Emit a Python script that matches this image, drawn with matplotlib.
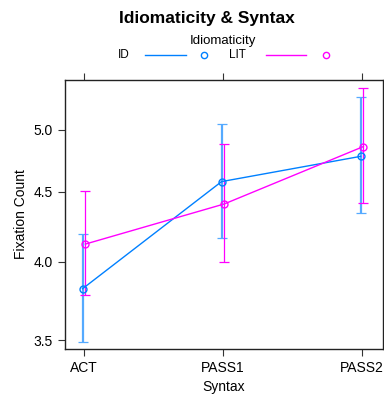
import numpy as np
import matplotlib.pyplot as plt
from matplotlib.lines import Line2D

plt.rcParams['font.family'] = ['Liberation Sans', 'DejaVu Sans']

syntax = ['ACT', 'PASS1', 'PASS2']
groups = ['ID', 'LIT']
fit = {'ID': [3.82, 4.58, 4.78], 'LIT': [4.12, 4.41, 4.86]}
lower = {'ID': [3.49, 4.16, 4.34], 'LIT': [3.78, 4.00, 4.42]}
upper = {'ID': [4.19, 5.05, 5.29], 'LIT': [4.51, 4.88, 5.37]}
yticks = [3.5, 4.0, 4.5, 5.0]

colors = {'ID': '#0080ff', 'LIT': '#ff00ff'}
bar_colors = {'ID': '#55aaff', 'LIT': '#ff00ff'}
bar_widths = {'ID': 1.6, 'LIT': 0.9}
offsets = {'ID': -0.01, 'LIT': 0.01}

W, H = 384, 396
fig = plt.figure(figsize=(W / 100, H / 100), dpi=100)
ax = fig.add_axes([0.169, 0.119, 0.828, 0.679])

x = np.arange(len(syntax))
for g in groups:
    xs = x + offsets[g]
    f = np.array(fit[g])
    lo = np.array(lower[g])
    hi = np.array(upper[g])
    ax.errorbar(xs, f, yerr=[f - lo, hi - f], fmt='none', ecolor=bar_colors[g],
                elinewidth=bar_widths[g], capsize=3.3, capthick=0.9, zorder=2)
    ax.plot(xs, f, color=colors[g], lw=1.0, marker='o', ms=5, mfc='none',
            mec=colors[g], mew=1.0, zorder=3)

ax.set_yscale('log')
ax.set_ylim(3.45, 5.44)
ax.set_xlim(-0.137, 2.15)
ax.set_yticks(yticks)
ax.set_yticklabels([f'{v:.1f}' for v in yticks])
ax.yaxis.set_minor_locator(plt.NullLocator())
ax.set_xticks(x)
ax.set_xticklabels(syntax)
ax.tick_params(direction='out', length=5, labelsize=10, top=True, right=True,
               labeltop=False, labelright=False, color='#333333', labelcolor='black')
for s in ax.spines.values():
    s.set_linewidth(1.0)
    s.set_color('#222222')
ax.set_xlabel('Syntax', fontsize=10, labelpad=4)
ax.set_ylabel('Fixation Count', fontsize=10, labelpad=4)

fig.text(207 / W, 1 - 18 / H, 'Idiomaticity & Syntax', ha='center', va='center',
         fontsize=12.5, fontweight='bold')
fig.text(223 / W, 1 - 41 / H, 'Idiomaticity', ha='center', va='center', fontsize=9.5)

# legend row: label, line, point for each group (pixel positions)
leg = {'ID': (118, 145, 186, 204), 'LIT': (229, 266, 306, 326)}
y0 = 1 - 55 / H
for g in groups:
    tx, l0, l1, px = leg[g]
    fig.text(tx / W, y0, g, ha='left', va='center', fontsize=8.5)
    fig.add_artist(Line2D([l0 / W, l1 / W], [y0, y0], color=colors[g], lw=1.0,
                          transform=fig.transFigure))
    fig.add_artist(Line2D([px / W], [y0], color=colors[g], lw=0, marker='o',
                          ms=4.5, mfc='none', mew=1.0, transform=fig.transFigure))

fig.savefig('out.png', dpi=100)
